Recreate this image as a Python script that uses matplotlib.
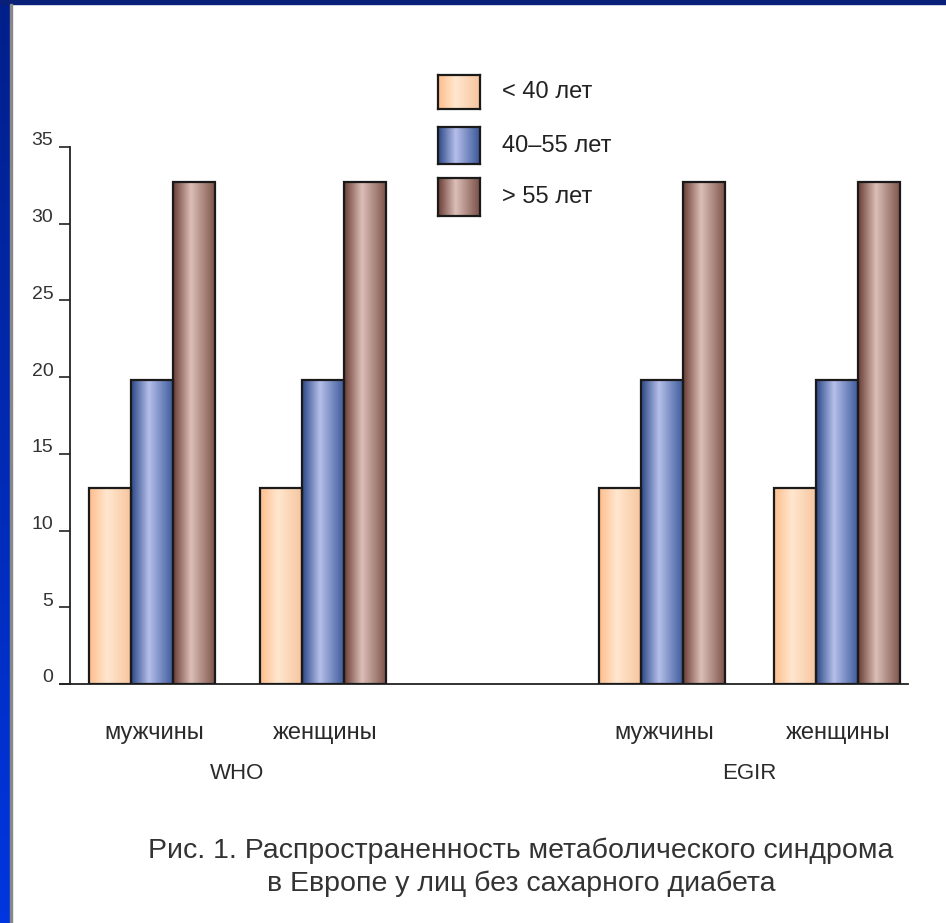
import numpy as np
import matplotlib
matplotlib.use("Agg")
import matplotlib.pyplot as plt
from matplotlib.colors import LinearSegmentedColormap
from matplotlib.patches import Rectangle
from matplotlib.transforms import ScaledTranslation

# ---------------- data ----------------
series_labels = ["< 40 лет", "40–55 лет", "> 55 лет"]
categories = ["мужчины", "женщины", "мужчины", "женщины"]
groups = ["WHO", "EGIR"]
vals_under40 = [12.8, 12.8, 12.8, 12.8]
vals_40_55 = [19.8, 19.8, 19.8, 19.8]
vals_over55 = [32.7, 32.7, 32.7, 32.7]
yticks = [0, 5, 10, 15, 20, 25, 30, 35]
caption = "Рис. 1. Распространенность метаболического синдрома\nв Европе у лиц без сахарного диабета"

# ---------------- layout / style ----------------
cat_pos = [0.0, 4.07, 12.14, 16.3]
bar_w = 1.0
grad_colors = [
    ["#ffbd8c", "#ffe7cf", "#f6c49c"],
    ["#2a4786", "#b6bfea", "#3a5799"],
    ["#693c34", "#dcbfb8", "#7a5047"],
]
fam_reg = ["Liberation Sans", "DejaVu Sans"]

W, H = 946, 923
fig = plt.figure(figsize=(W / 100, H / 100), dpi=100)
fig.patch.set_facecolor("white")

def cmap_for(cols):
    return LinearSegmentedColormap.from_list("g", [(0, cols[0]), (0.42, cols[1]), (1, cols[2])])

grad = np.linspace(0, 1, 256).reshape(1, -1)

ax = fig.add_axes([70 / W, 1 - 684 / H, (908 - 70) / W, (684 - 147) / H])
ax.set_xlim(-1.952, 18.0)
ax.set_ylim(0, 35)

all_vals = [vals_under40, vals_40_55, vals_over55]
for si, vals in enumerate(all_vals):
    xs = [c + (si - 1) * bar_w for c in cat_pos]
    bars = ax.bar(xs, vals, width=bar_w, color="none", edgecolor="#1a1a1a",
                  linewidth=1.6, zorder=3)
    cm = cmap_for(grad_colors[si])
    for b in bars:
        x0, y0 = b.get_x(), b.get_y()
        im = ax.imshow(grad, cmap=cm, aspect="auto",
                       extent=[x0, x0 + b.get_width(), y0, y0 + b.get_height()],
                       zorder=2, interpolation="bilinear")
        im.set_clip_path(b)

for s in ["top", "right"]:
    ax.spines[s].set_visible(False)
for s in ["left", "bottom"]:
    ax.spines[s].set_linewidth(1.3)
    ax.spines[s].set_color("#222222")
ax.plot([-0.012, 0], [0, 0], transform=ax.transAxes, color="#222222", lw=1.3, clip_on=False)
ax.set_xticks([])
ax.set_yticks(yticks)
ax.tick_params(axis="y", length=8, width=1.2, color="#222222", pad=4,
               labelsize=14, labelcolor="#333333")
for lab in ax.get_yticklabels():
    lab.set_fontfamily(fam_reg)
    lab.set_transform(lab.get_transform() + ScaledTranslation(0, 8 / 100, fig.dpi_scale_trans))

# category labels
for c, name in zip(cat_pos, categories):
    ax.text(c + 0.05, -0.092, name, transform=ax.get_xaxis_transform(), ha="center", va="center",
            fontsize=17, color="#2a2a2a", family=fam_reg)
for gi, g in enumerate(groups):
    gx = (cat_pos[2 * gi] + cat_pos[2 * gi + 1]) / 2
    ax.text(gx, -0.166, g, transform=ax.get_xaxis_transform(), ha="center", va="center",
            fontsize=16, color="#2a2a2a", family=fam_reg)

# legend
sw = [(75, 109), (127, 164), (178, 216)]
for si, (t, bt) in enumerate(sw):
    lax = fig.add_axes([438 / W, 1 - bt / H, 42 / W, (bt - t) / H])
    lax.imshow(grad, cmap=cmap_for(grad_colors[si]), aspect="auto", interpolation="bilinear")
    lax.set_xticks([]); lax.set_yticks([])
    for sp in lax.spines.values():
        sp.set_linewidth(1.6); sp.set_color("#1a1a1a")
    fig.text(502 / W, 1 - (t + bt) / 2 / H, series_labels[si], ha="left", va="center",
             fontsize=17, color="#222222", family=fam_reg)

# caption
fig.text(521 / W, 1 - 867 / H, caption, ha="center", va="center", fontsize=20.5,
         color="#333333", family=fam_reg, linespacing=1.3)

# frame: left and top blue stripe
left = fig.add_axes([0, 0, 10 / W, 1])
left.imshow(np.linspace(0, 1, 256).reshape(-1, 1),
            cmap=LinearSegmentedColormap.from_list("b", ["#001f8a", "#0036e0"]),
            aspect="auto", extent=[0, 1, 1, 0])
left.axis("off")
fig.patches.append(Rectangle((0, 1 - 4 / H), 1, 4 / H, transform=fig.transFigure,
                             color="#0a1f78", zorder=10))
fig.patches.append(Rectangle((10 / W, 0), 1.5 / W, 1 - 4 / H, transform=fig.transFigure,
                             color="#888888", zorder=10))

fig.savefig("out.png", dpi=100, facecolor="white")
